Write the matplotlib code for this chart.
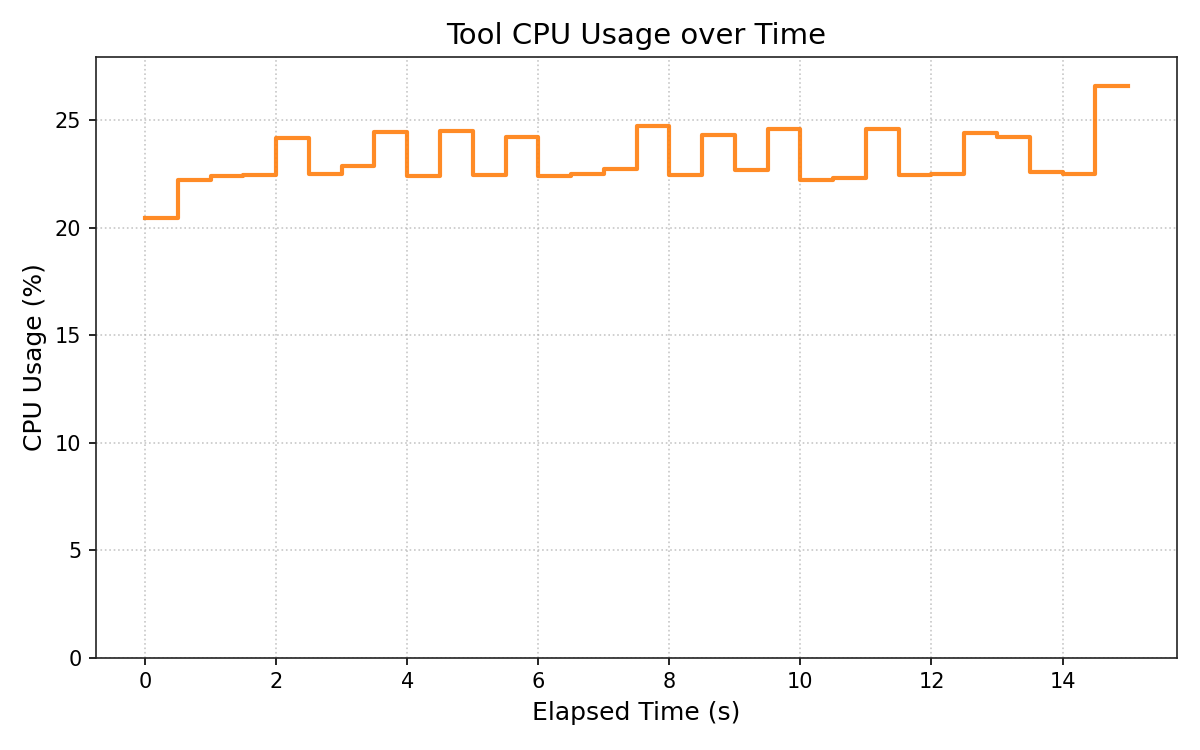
import matplotlib
matplotlib.use("Agg")
import matplotlib.pyplot as plt

elapsed_s = [0.0, 0.5, 1.0, 1.5, 2.0, 2.5, 3.0, 3.5, 4.0, 4.5, 5.0, 5.5, 6.0, 6.5, 7.0, 7.5,
             8.0, 8.5, 9.0, 9.5, 10.0, 10.5, 11.0, 11.5, 12.0, 12.5, 13.0, 13.5, 14.0, 14.5, 15.0]
cpu_pct = [20.46, 22.23, 22.40, 22.46, 24.18, 22.49, 22.88, 24.43, 22.40, 24.51, 22.46, 24.23,
           22.40, 22.51, 22.71, 24.74, 22.46, 24.32, 22.66, 24.60, 22.20, 22.32, 24.60, 22.46,
           22.51, 24.41, 24.23, 22.57, 22.51, 26.60, 26.60]

fig, ax = plt.subplots(figsize=(8, 5), dpi=150)
ax.step(elapsed_s, cpu_pct, where="post", color="#ff7f0e", alpha=0.9, linewidth=2)
ax.set_ylim(0, max(cpu_pct) * 1.05)
ax.set_title("Tool CPU Usage over Time", fontsize=14)
ax.set_xlabel("Elapsed Time (s)", fontsize=12)
ax.set_ylabel("CPU Usage (%)", fontsize=12)
ax.tick_params(labelsize=10)
ax.grid(True, linestyle=":", color="#b0b0b0", alpha=0.7)
for s in ax.spines.values():
    s.set_color("#222222")
fig.subplots_adjust(left=0.08, right=0.981, top=0.924, bottom=0.123)
fig.savefig("out.png", dpi=150)
